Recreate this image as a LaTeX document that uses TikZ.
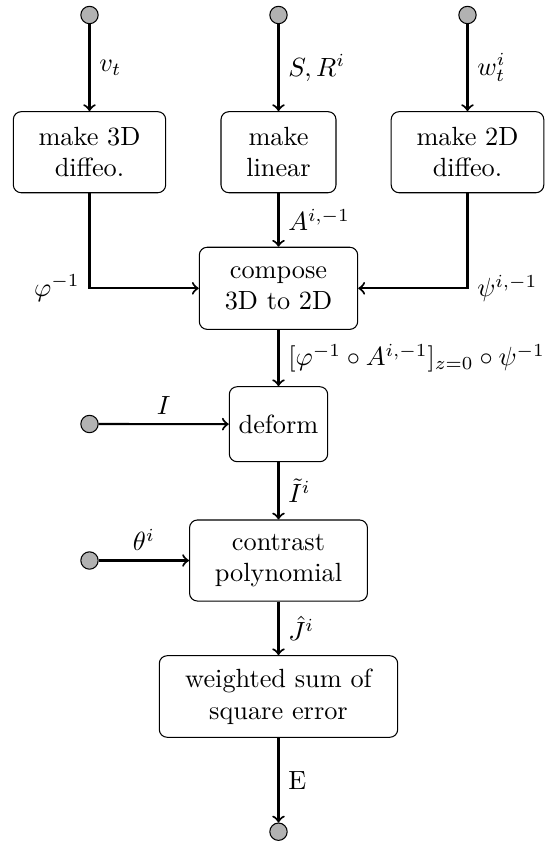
\documentclass[tikz,border=0pt]{standalone}
\usetikzlibrary{arrows}
\begin{document}
\begin{tikzpicture}[x=0.38pt,y=-0.38pt,
  blk/.style={draw,rounded corners=3pt,align=center,inner sep=0pt,minimum height=30.8pt},
  port/.style={circle,draw,fill=gray!60,inner sep=0pt,minimum size=6.6pt},
  flow/.style={->,thick},
  lab/.style={inner sep=3.33pt}]
\useasboundingbox (0,0) rectangle (546,844);
% input ports
\node[port] (pv) at (89.5,15) {};
\node[port] (ps) at (278.5,15) {};
\node[port] (pw) at (467.5,15) {};
\node[port] (pI) at (89.5,424) {};
\node[port] (pth) at (89.5,560.5) {};
\node[port] (pE) at (278.5,831.7) {};
% blocks
\node[blk,minimum width=57.9pt] (b3d) at (89.5,152.2) {make 3D\\diffeo.};
\node[blk,minimum width=43.7pt] (blin) at (278.5,152.2) {make\\linear};
\node[blk,minimum width=58pt] (b2d) at (467.5,152.2) {make 2D\\diffeo.};
\node[blk,minimum width=60.2pt,minimum height=31.2pt] (comp) at (278.5,288.3) {compose\\3D to 2D};
\node[blk,minimum width=37.4pt,minimum height=28.5pt] (def) at (278.5,424.2) {deform};
\node[blk,minimum width=67.6pt] (con) at (278.5,560.5) {contrast\\polynomial};
\node[blk,minimum width=90.6pt,minimum height=31pt] (ws) at (278.5,696.5) {weighted sum of\\square error};
% connectors
\draw[flow] (pv) -- node[right,lab] {$v_t$} (b3d);
\draw[flow] (ps) -- node[right,lab] {$S,R^i$} (blin);
\draw[flow] (pw) -- node[right,lab] {$w_t^i$} (b2d);
\draw[flow] (blin) -- node[right,lab] {$A^{i,-1}$} (comp);
\draw[flow] (b3d.south) |- node[pos=0.5,left,lab] {$\varphi^{-1}$} (comp.west);
\draw[flow] (b2d.south) |- node[pos=0.5,right,lab] {$\psi^{i,-1}$} (comp.east);
\draw[flow] (comp) -- node[right,lab] {$[\varphi^{-1}\circ A^{i,-1}]_{z=0}\circ\psi^{-1}$} (def);
\draw[flow] (pI) -- node[above,lab] {$I$} (def);
\draw[flow] (def) -- node[right,lab] {$\tilde{I}^i$} (con);
\draw[flow] (pth) -- node[above,lab] {$\theta^i$} (con);
\draw[flow] (con) -- node[right,lab] {$\hat{J}^i$} (ws);
\draw[flow] (ws) -- node[right,lab] {E} (pE);
\end{tikzpicture}
\end{document}
